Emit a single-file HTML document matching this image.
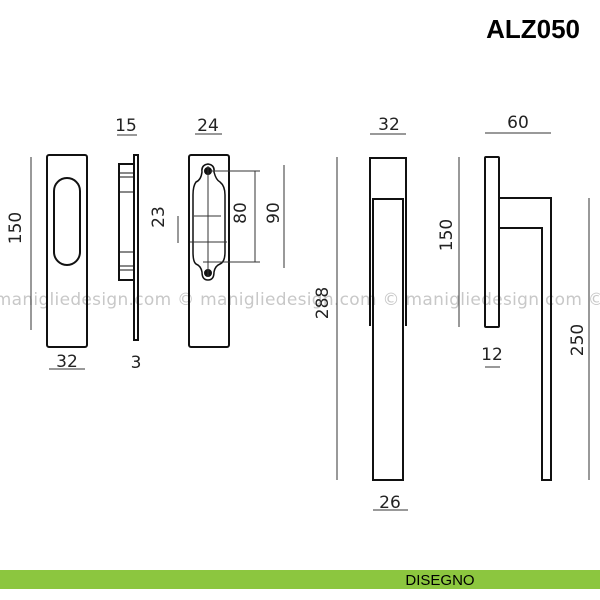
<!DOCTYPE html>
<html><head><meta charset="utf-8"><style>
html,body{margin:0;padding:0;background:#fff;width:600px;height:600px;overflow:hidden}
svg{display:block}
text{font-family:"DejaVu Sans","Liberation Sans",sans-serif;fill:#222}
</style></head><body>
<svg width="600" height="600" viewBox="0 0 600 600" xmlns="http://www.w3.org/2000/svg">
<text x="580" y="38" text-anchor="end" style="font-family:'Liberation Sans',sans-serif;font-weight:bold;font-size:26px;fill:#000">ALZ050</text>

<text x="300" y="305" text-anchor="middle" style="font-size:17px;fill:#c8c8c8;letter-spacing:0.3px">manigliedesign.com © manigliedesign.com © manigliedesign.com ©</text>

<g fill="none" stroke="#111" stroke-width="2">
<rect x="47" y="155" width="40" height="192" rx="2"/>
<rect x="54" y="178" width="26" height="87" rx="13"/>
<rect x="134" y="155" width="4" height="185"/>
<rect x="119" y="164" width="15" height="116"/>
<line x1="119" y1="173" x2="134" y2="173" stroke-width="1"/>
<line x1="119" y1="177" x2="134" y2="177" stroke-width="1"/>
<line x1="119" y1="192" x2="134" y2="192" stroke-width="1"/>
<line x1="119" y1="252" x2="134" y2="252" stroke-width="1"/>
<line x1="119" y1="266" x2="134" y2="266" stroke-width="1"/>
<line x1="119" y1="270" x2="134" y2="270" stroke-width="1"/>
<rect x="189" y="155" width="40" height="192" rx="2"/>
<path d="M202,172 Q201,165 208,164 Q215,165 214,172 Q216,180 220,182 Q225,186 225,195 L225,252 Q225,262 220,264 Q215,266 214,272 Q214,280 208,280 Q202,280 202,272 Q201,266 196,264 Q193,262 193,252 L193,195 Q193,186 196,182 Q201,180 202,172 Z" stroke-width="1.5"/>
<circle cx="208" cy="171" r="3" fill="#111"/>
<circle cx="208" cy="273" r="3" fill="#111"/>
</g>
<g stroke="#333" stroke-width="1" fill="none">
<line x1="208" y1="166" x2="208" y2="277"/>
<line x1="194" y1="216" x2="221" y2="216"/>
<line x1="190" y1="242" x2="227" y2="242"/>
<line x1="203" y1="262" x2="213" y2="262"/>
<line x1="210" y1="171" x2="260" y2="171"/>
<line x1="210" y1="262" x2="260" y2="262"/>
<line x1="255" y1="171" x2="255" y2="262"/>
<line x1="284" y1="165" x2="284" y2="268"/>
<line x1="31" y1="157" x2="31" y2="330"/>
<line x1="49" y1="369" x2="85" y2="369"/>
<line x1="117" y1="135" x2="137" y2="135"/>
<line x1="195" y1="134" x2="222" y2="134"/>
<line x1="178" y1="216" x2="178" y2="243"/>
<line x1="370" y1="134" x2="406" y2="134"/>
<line x1="337" y1="157" x2="337" y2="480"/>
<line x1="373" y1="510" x2="408" y2="510"/>
<line x1="485" y1="133" x2="551" y2="133"/>
<line x1="459" y1="157" x2="459" y2="327"/>
<line x1="589" y1="198" x2="589" y2="480"/>
<line x1="485" y1="367" x2="500" y2="367"/>
</g>
<g fill="none" stroke="#111" stroke-width="2">
<path d="M370,326 L370,158 L406,158 L406,326"/>
<path d="M373,326 L373,199 L403,199 L403,480 L373,480 Z"/>
<rect x="485" y="157" width="14" height="170" rx="1"/>
<path d="M500,198 L551,198 L551,480 L542,480 L542,228 L500,228"/>
</g>
<g style="font-size:17px">
<text x="67" y="367" text-anchor="middle">32</text>
<text x="126" y="131" text-anchor="middle">15</text>
<text x="208" y="131" text-anchor="middle">24</text>
<text x="136" y="368" text-anchor="middle">3</text>
<text x="389" y="130" text-anchor="middle">32</text>
<text x="518" y="128" text-anchor="middle">60</text>
<text x="390" y="508" text-anchor="middle">26</text>
<text x="492" y="360" text-anchor="middle">12</text>
<text transform="translate(21,228) rotate(-90)" text-anchor="middle">150</text>
<text transform="translate(164,217) rotate(-90)" text-anchor="middle">23</text>
<text transform="translate(246,213) rotate(-90)" text-anchor="middle">80</text>
<text transform="translate(279,213) rotate(-90)" text-anchor="middle">90</text>
<text transform="translate(328,303) rotate(-90)" text-anchor="middle">288</text>
<text transform="translate(452,235) rotate(-90)" text-anchor="middle">150</text>
<text transform="translate(583,340) rotate(-90)" text-anchor="middle">250</text>
</g>
<rect x="0" y="570" width="600" height="19" fill="#8cc63f"/>
<text x="440" y="585" text-anchor="middle" style="font-family:'Liberation Sans',sans-serif;font-size:15px;fill:#000">DISEGNO</text>
</svg>
</body></html>
